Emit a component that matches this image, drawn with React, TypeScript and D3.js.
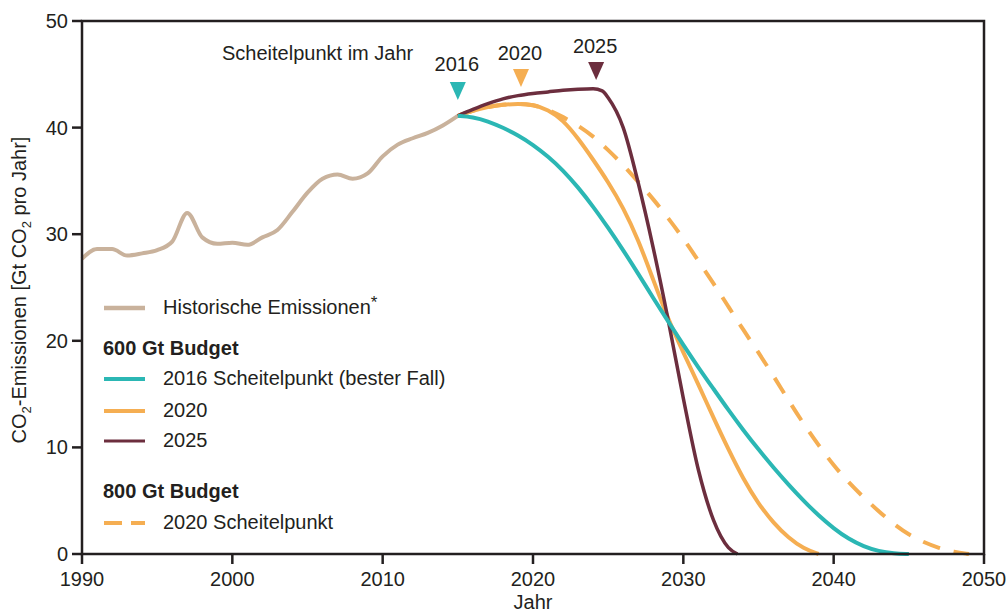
import React from "react";
import * as d3 from "d3";

// ---- data ----
const histYears = [1990,1991,1992,1993,1994,1995,1996,1997,1998,1999,2000,2001,2002,2003,2004,2005,2006,2007,2008,2009,2010,2011,2012,2013,2014,2015];
const histValues = [27.7,28.6,28.6,28.0,28.2,28.5,29.3,32.0,29.7,29.1,29.2,29.0,29.7,30.4,32.1,33.9,35.2,35.6,35.2,35.7,37.3,38.4,39.0,39.5,40.2,41.1];

const teal2016Years = [2015,2016,2017,2018,2019,2020,2021,2022,2023,2024,2025,2026,2027,2028,2029,2030,2031,2032,2033,2034,2035,2036,2037,2038,2039,2040,2041,2042,2043,2044,2045];
const teal2016Values = [41.1,41.0,40.6,40.0,39.3,38.4,37.3,36.0,34.4,32.6,30.6,28.5,26.3,24.0,21.8,19.6,17.5,15.5,13.5,11.6,9.8,8.1,6.5,5.0,3.6,2.4,1.4,0.7,0.25,0.05,0];

const orange2020Years = [2015,2016,2017,2018,2019,2020,2021,2022,2023,2024,2025,2026,2027,2028,2029,2030,2031,2032,2033,2034,2035,2036,2037,2038,2039];
const orange2020Values = [41.1,41.6,41.95,42.15,42.25,42.15,41.7,40.7,39.0,37.0,34.9,32.5,29.5,25.7,22.0,18.9,15.9,12.8,9.8,7.0,4.7,2.9,1.5,0.5,0];

const maroon2025Years = [2015,2016,2017,2018,2019,2020,2021,2022,2023,2024,2024.6,2025,2026,2027,2028,2029,2030,2031,2032,2033,2033.6];
const maroon2025Values = [41.1,41.7,42.25,42.7,43.0,43.2,43.35,43.5,43.6,43.65,43.45,42.8,40.0,34.8,28.7,21.9,14.6,7.9,3.2,0.6,0];

const dashed2020Years = [2015,2016,2017,2018,2019,2020,2021,2022,2023,2024,2025,2026,2027,2028,2029,2030,2031,2032,2033,2034,2035,2036,2037,2038,2039,2040,2041,2042,2043,2044,2045,2046,2047,2048,2049];
const dashed2020Values = [41.1,41.6,41.95,42.15,42.25,42.15,41.7,41.0,40.2,39.2,37.9,36.5,34.9,33.3,31.5,29.6,27.5,25.4,23.2,21.0,18.9,16.7,14.4,12.2,10.2,8.3,6.7,5.3,4.0,2.8,1.8,1.1,0.55,0.2,0];

const xTicks = [1990,2000,2010,2020,2030,2040,2050];
const yTicks = [0,10,20,30,40,50];

const peakYears = [2015, 2019.2, 2024.2];
const peakLabels = ["2016", "2020", "2025"];

const C_HIST = "#c9b29c";
const C_TEAL = "#2bb7b4";
const C_ORANGE = "#f5ae52";
const C_MAROON = "#6c2e3e";
const C_INK = "#231f20";

export default function App() {
  const W = 1007, H = 615;
  const x = d3.scaleLinear().domain([1990, 2050]).range([82, 984]);
  const y = d3.scaleLinear().domain([0, 50]).range([554, 21]);
  const mk = (curve: any) =>
    d3
      .line<[number, number]>()
      .x((d) => x(d[0]))
      .y((d) => y(d[1]))
      .curve(curve);
  const lineHist = mk(d3.curveMonotoneX);
  const lineSmooth = mk(d3.curveBasis);
  const lineMaroon = mk(d3.curveMonotoneX);
  const zip = (a: number[], b: number[]) => a.map((v, i) => [v, b[i]] as [number, number]);

  const font = "'Liberation Sans', Arial, Helvetica, sans-serif";
  const fs = 20;

  const peakColors = [C_TEAL, C_ORANGE, C_MAROON];
  const triTop = [82, 69, 62];
  const labelBase = [71, 60, 53];

  return (
    <svg width={W} height={H} style={{ position: "absolute", left: 0, top: 0 }} fontFamily={font}>
      <rect width={W} height={H} fill="#fff" />
      {/* lines */}
      <path d={lineHist(zip(histYears, histValues)) || ""} fill="none" stroke={C_HIST} strokeWidth={4} strokeLinejoin="round" />
      <path d={lineSmooth(zip(dashed2020Years, dashed2020Values)) || ""} fill="none" stroke={C_ORANGE} strokeWidth={4} strokeDasharray="18 14" />
      <path d={lineSmooth(zip(orange2020Years, orange2020Values)) || ""} fill="none" stroke={C_ORANGE} strokeWidth={4} />
      <path d={lineMaroon(zip(maroon2025Years, maroon2025Values)) || ""} fill="none" stroke={C_MAROON} strokeWidth={3.5} />
      <path d={lineSmooth(zip(teal2016Years, teal2016Values)) || ""} fill="none" stroke={C_TEAL} strokeWidth={4} />

      {/* frame */}
      <rect x={x(1990)} y={y(50)} width={x(2050) - x(1990)} height={y(0) - y(50)} fill="none" stroke={C_INK} strokeWidth={2.5} />
      {yTicks.map((t) => (
        <g key={"y" + t}>
          <line x1={x(1990) - 10} x2={x(1990)} y1={y(t)} y2={y(t)} stroke={C_INK} strokeWidth={2.5} />
          <text x={x(1990) - 14} y={y(t)} dy="0.35em" textAnchor="end" fontSize={fs} fill={C_INK}>{t}</text>
        </g>
      ))}
      {xTicks.map((t) => (
        <g key={"x" + t}>
          <line x1={x(t)} x2={x(t)} y1={y(0)} y2={y(0) + 10} stroke={C_INK} strokeWidth={2.5} />
          <text x={x(t)} y={586} textAnchor="middle" fontSize={fs} fill={C_INK}>{t}</text>
        </g>
      ))}
      <text x={533} y={609} textAnchor="middle" fontSize={fs} fill={C_INK}>Jahr</text>
      <text transform="translate(26,290) rotate(-90)" textAnchor="middle" fontSize={fs} fill={C_INK}>
        CO<tspan fontSize={13} dy={5}>2</tspan><tspan dy={-5}>-Emissionen [Gt CO</tspan><tspan fontSize={13} dy={5}>2</tspan><tspan dy={-5}> pro Jahr]</tspan>
      </text>

      {/* peak markers */}
      <text x={222} y={60} fontSize={fs} fill={C_INK}>Scheitelpunkt im Jahr</text>
      {peakYears.map((py, i) => {
        const cx = x(py);
        const t = triTop[i];
        return (
          <g key={"p" + i}>
            <path d={`M${cx - 8},${t} L${cx + 8},${t} L${cx},${t + 18} Z`} fill={peakColors[i]} />
            <text x={cx - 1} y={labelBase[i]} textAnchor="middle" fontSize={fs} fill={C_INK}>{peakLabels[i]}</text>
          </g>
        );
      })}

      {/* legend */}
      <line x1={104} x2={145} y1={308} y2={308} stroke={C_HIST} strokeWidth={4.5} />
      <text x={163} y={314} fontSize={fs} fill={C_INK}>Historische Emissionen<tspan fontSize={17} dy={-6}>*</tspan></text>
      <text x={103} y={355} fontSize={fs} fontWeight="bold" fill={C_INK}>600 Gt Budget</text>
      <line x1={104} x2={145} y1={379} y2={379} stroke={C_TEAL} strokeWidth={4} />
      <text x={163} y={385} fontSize={fs} fill={C_INK}>2016 Scheitelpunkt (bester Fall)</text>
      <line x1={104} x2={145} y1={411} y2={411} stroke={C_ORANGE} strokeWidth={4} />
      <text x={163} y={417} fontSize={fs} fill={C_INK}>2020</text>
      <line x1={104} x2={145} y1={441} y2={441} stroke={C_MAROON} strokeWidth={3} />
      <text x={163} y={447} fontSize={fs} fill={C_INK}>2025</text>
      <text x={103} y={498} fontSize={fs} fontWeight="bold" fill={C_INK}>800 Gt Budget</text>
      <line x1={104} x2={145} y1={523} y2={523} stroke={C_ORANGE} strokeWidth={4} strokeDasharray="18 9" />
      <text x={163} y={529} fontSize={fs} fill={C_INK}>2020 Scheitelpunkt</text>
    </svg>
  );
}
